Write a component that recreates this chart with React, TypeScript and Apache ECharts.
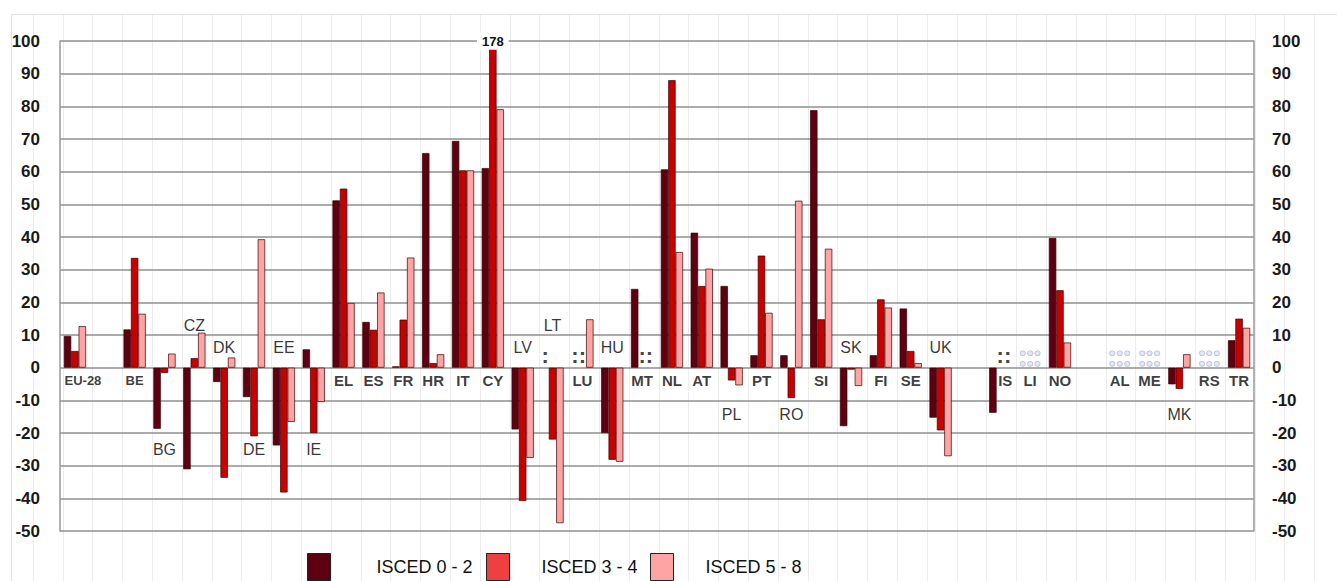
import React, { useEffect, useRef } from "react";
import * as echarts from "echarts";

// Categories ('' = empty spacer column)
const categories = [
  "EU-28", "", "BE", "BG", "CZ", "DK", "DE", "EE", "IE", "EL", "ES", "FR", "HR", "IT", "CY",
  "LV", "LT", "LU", "HU", "MT", "NL", "AT", "PL", "PT", "RO", "SI", "SK", "FI", "SE", "UK",
  "", "IS", "LI", "NO", "", "AL", "ME", "MK", "RS", "TR",
];

const seriesNames = ["ISCED 0 - 2", "ISCED 3 - 4", "ISCED 5 - 8"];

const isced02 = [
  9.7, null, 11.7, -18.7, -31.1, -4.4, -9.0, -23.8, 5.6, 51.2, 14.0, 0.4, 65.7, 69.4, 61.1,
  -18.9, null, null, -20.0, 24.1, 60.7, 41.3, 25.0, 3.8, 3.8, 78.8, -17.9, 3.8, 18.1, -15.3,
  null, -13.8, null, 39.7, null, null, null, -5.1, null, 8.4,
];
const isced34 = [
  5.1, null, 33.6, -1.6, 2.9, -33.7, -21.0, -38.2, -20.0, 54.8, 11.6, 14.7, 1.4, 60.4, 178,
  -40.8, -22.0, null, -28.2, null, 88.0, 25.0, -3.9, 34.3, -9.3, 14.8, -0.6, 20.9, 5.1, -19.2,
  null, null, null, 23.7, null, null, null, -6.5, null, 15.0,
];
const isced58 = [
  12.7, null, 16.5, 4.3, 10.7, 3.1, 39.3, -16.6, -10.5, 19.8, 23.0, 33.7, 4.1, 60.4, 79.1,
  -27.6, -47.6, 14.8, -28.8, null, 35.4, 30.3, -5.4, 16.8, 51.1, 36.4, -5.6, 18.4, 1.4, -27.1,
  null, null, null, 7.7, null, null, null, 4.1, null, 12.2,
];

// Countries whose "not available" marks are drawn in the light style
const naLight = ["LI", "AL", "ME", "RS"];

// Tick labels
const yTicks = [-50, -40, -30, -20, -10, 0, 10, 20, 30, 40, 50, 60, 70, 80, 90, 100];

// Label anchor level for each country name (axis units)
const labelLevel = [
  -4, null, -4, -25.2, 13, 6.2, -25.2, 6.2, -25.2, -4, -4, -4, -4, -4, -4,
  6.2, 13, -4, 6.2, -4, -4, -4, -14.3, -4, -14.3, -4, 6.2, -4, -4, 6.2,
  null, -4, -4, -4, null, -4, -4, -14.3, -4, -4,
];

// Label horizontal nudges (px)
const labelNudge: Record<string, number> = { "EU-28": 8, IS: 5 };

const barColors = ["#5c0012", "#c80000", "#ffa4a4"];
const legendColors = ["#5c0012", "#ee4040", "#ffa4a4"];
const legendLeft = [307, 486, 650];
const legendTextPad = [41, 27, 27];
const FONT = "'Liberation Sans', Arial, sans-serif";

export default function App() {
  const ref = useRef<HTMLDivElement>(null);

  useEffect(() => {
    if (!ref.current) return;
    const chart = echarts.init(ref.current, null, { renderer: "svg" });

    const barW = 7.4;
    const allSeries = [isced02, isced34, isced58];

    const barSeries = allSeries.map((arr, si) => ({
      name: seriesNames[si],
      type: "bar",
      barWidth: barW,
      barGap: "0%",
      xAxisIndex: 0,
      yAxisIndex: 0,
      z: 3,
      itemStyle: { color: barColors[si], borderColor: "#3a0000", borderWidth: 0.7 },
      data: arr.map((v) =>
        v !== null && v > 100
          ? {
              value: v,
              label: {
                show: true,
                position: "top",
                distance: 0,
                offset: [0, 9],
                formatter: "{c}",
                fontFamily: FONT,
                fontWeight: "bold",
                fontSize: 13,
                color: "#111",
                backgroundColor: "#ffffff",
                padding: [2, 5],
              },
            }
          : v
      ),
    }));

    const nameData: any[] = [];
    categories.forEach((c, i) => {
      if (!c || labelLevel[i] === null) return;
      const base = labelLevel[i] === -4;
      const small = c === "EU-28" || c === "BE";
      nameData.push({
        name: c,
        value: [i, labelLevel[i]],
        label: {
          fontWeight: base ? "bold" : "normal",
          fontSize: small ? 13 : base ? 15 : 16,
          color: base ? "#0a0a0a" : "#000000",
          offset: [labelNudge[c] || 0, 0],
        },
      });
    });

    const naData: any[] = [];
    categories.forEach((c, i) => {
      if (!c) return;
      allSeries.forEach((arr, si) => {
        if (arr[i] !== null) return;
        const light = naLight.includes(c);
        naData.push({
          name: c,
          value: [i, 3.6],
          label: {
            offset: [(si - 1) * barW, 0],
            fontFamily: light ? "'Noto Sans', sans-serif" : FONT,
            color: light ? "#e2e4f4" : "#111",
            textBorderColor: light ? "#9ca2d4" : "transparent",
            textBorderWidth: light ? 1.2 : 0,
            fontSize: light ? 26 : 22,
          },
        });
      });
    });

    const faintLines: any[] = [];
    for (let k = -4; k <= 39; k++) {
      const x = Math.round(152 + k * 29.8) + 0.5;
      if (x < 12) continue;
      faintLines.push({
        type: "line",
        silent: true,
        z: -10,
        shape: { x1: x, y1: 14, x2: x, y2: 581 },
        style: { stroke: "#ececec", lineWidth: 1 },
      });
    }
    faintLines.push({
      type: "line",
      silent: true,
      z: -10,
      shape: { x1: 11, y1: 14.5, x2: 1337, y2: 14.5 },
      style: { stroke: "#e2e2e2", lineWidth: 1 },
    });
    faintLines.push({
      type: "line",
      silent: true,
      z: -10,
      shape: { x1: 11.5, y1: 14, x2: 11.5, y2: 581 },
      style: { stroke: "#e2e2e2", lineWidth: 1 },
    });

    const yAxisCommon = {
      type: "value",
      min: yTicks[0],
      max: yTicks[yTicks.length - 1],
      interval: yTicks[1] - yTicks[0],
      axisTick: { show: false },
      axisLine: { show: true, lineStyle: { color: "#999999", width: 1.5 } },
      axisLabel: {
        fontFamily: FONT,
        fontWeight: "bold",
        fontSize: 17,
        color: "#1a1a1a",
      },
    };

    const legends = seriesNames.map((n, i) => ({
      left: legendLeft[i],
      top: 553,
      itemWidth: 23,
      itemHeight: 27,
      icon: "rect",
      selectedMode: false,
      padding: 0,
      data: [
        {
          name: n,
          itemStyle: { color: legendColors[i], borderColor: "#222", borderWidth: 1 },
        },
      ],
      textStyle: {
        fontFamily: FONT,
        fontSize: 18,
        color: "#111",
        padding: [0, 0, 0, legendTextPad[i]],
      },
    }));

    chart.setOption({
      animation: false,
      backgroundColor: "#ffffff",
      graphic: faintLines,
      grid: { left: 60, right: 83, top: 41, bottom: 50, containLabel: false },
      legend: legends,
      xAxis: {
        type: "category",
        data: categories,
        axisLine: { show: false },
        axisTick: { show: false },
        axisLabel: { show: false },
        splitLine: { show: false },
      },
      yAxis: [
        {
          ...yAxisCommon,
          position: "left",
          axisLabel: { ...yAxisCommon.axisLabel, margin: 20 },
          splitLine: { show: true, lineStyle: { color: "#8f8f8f", width: 1.6 } },
        },
        {
          ...yAxisCommon,
          position: "right",
          axisLabel: { ...yAxisCommon.axisLabel, margin: 18 },
          splitLine: { show: false },
        },
      ],
      series: [
        ...barSeries,
        {
          name: "labels",
          type: "scatter",
          symbolSize: 1,
          itemStyle: { color: "transparent" },
          z: 5,
          data: nameData,
          label: {
            show: true,
            position: "inside",
            formatter: "{b}",
            fontFamily: FONT,
          },
        },
        {
          name: "na",
          type: "scatter",
          symbolSize: 1,
          itemStyle: { color: "transparent" },
          z: 5,
          data: naData,
          label: {
            show: true,
            position: "inside",
            formatter: ":",
            fontWeight: "bold",
          },
        },
      ],
    });

    return () => chart.dispose();
  }, []);

  return (
    <div
      ref={ref}
      style={{ position: "fixed", left: 0, top: 0, width: 1337, height: 581, background: "#fff" }}
    />
  );
}
